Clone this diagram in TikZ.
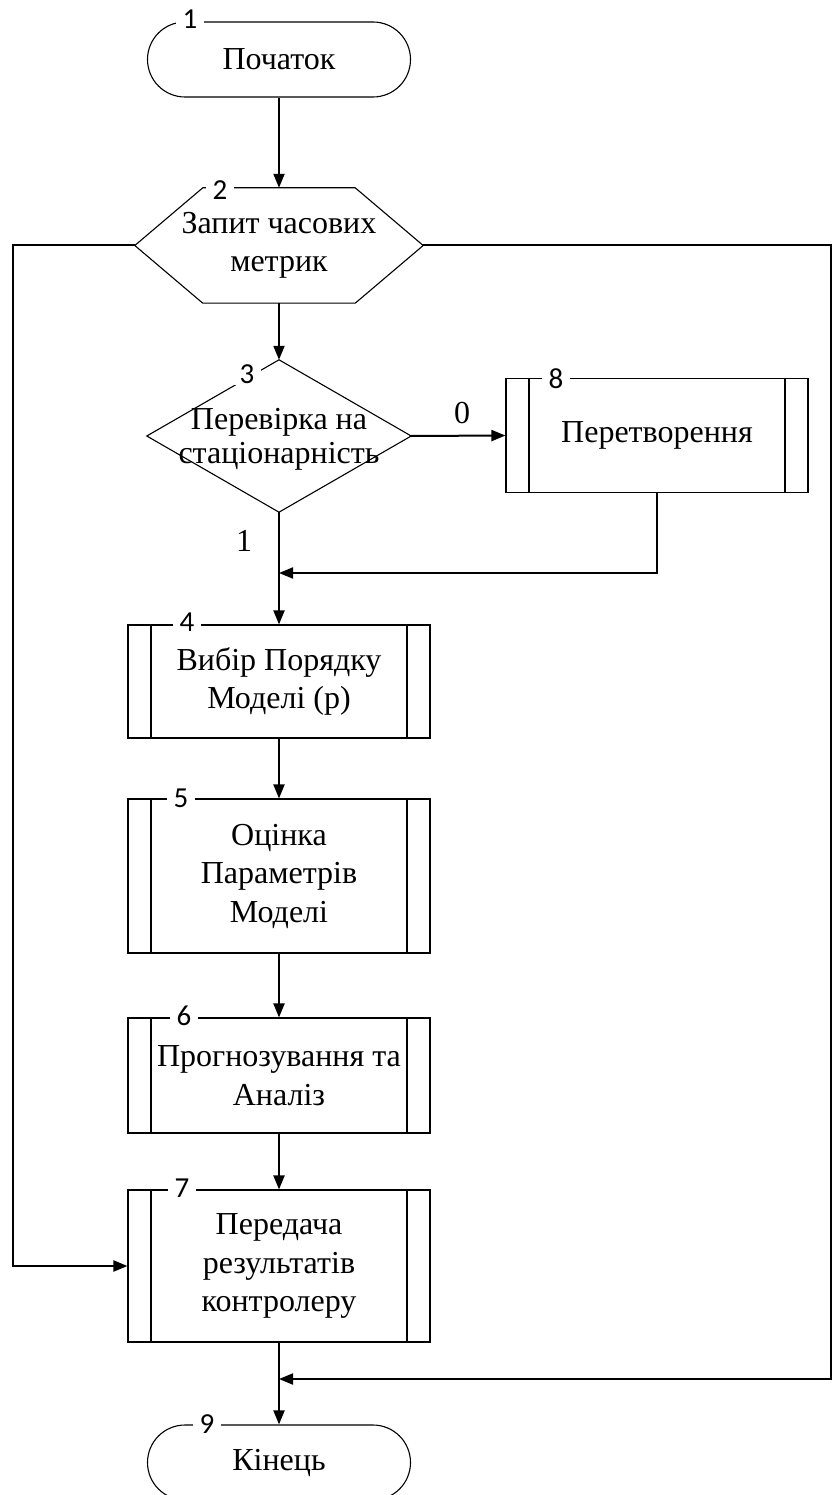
\documentclass[tikz,border=0pt]{standalone}
\usepackage{fontspec}
\setmainfont{Liberation Serif}
\newfontfamily\numfont{Carlito}
\usetikzlibrary{arrows.meta,calc}

\begin{document}
\begin{tikzpicture}[x=1pt,y=-1pt,
  outline/.style={draw=black, line width=1.1pt},
  txt/.style={font=\fontsize{32}{38.5}\selectfont, align=center, inner sep=0pt},
  terminal/.style={outline, txt, rectangle, rounded corners=37.5pt,
    minimum width=263pt, minimum height=75pt},
  process/.style={outline, txt, rectangle, minimum width=302pt,
    path picture={\draw[line width=1.1pt]
      ([xshift=23pt]path picture bounding box.north west) -- ([xshift=23pt]path picture bounding box.south west)
      ([xshift=-23pt]path picture bounding box.north east) -- ([xshift=-23pt]path picture bounding box.south east);}},
  frame/.style={rectangle, inner sep=0pt},
  num/.style={font=\numfont\fontsize{29}{29}\selectfont, fill=white, inner xsep=7pt, inner ysep=1.5pt},
  flow/.style={line width=2pt, -{Triangle[length=14pt,width=11pt]}},
]
\useasboundingbox (0,0) rectangle (833,1495);

% start
\node[terminal] (start) at (279,59.5) {Початок};

% data request (hexagon)
\node[frame, minimum width=288pt, minimum height=115pt] (hex) at (279,245.5) {};
\draw[outline] (hex.west) -- ($(hex.north west)+(68,0)$) -- ($(hex.north east)+(-68,0)$)
  -- (hex.east) -- ($(hex.south east)+(-68,0)$) -- ($(hex.south west)+(68,0)$) -- cycle;
\node[txt] (hextext) at (hex) {Запит часових\\метрик};

% stationarity check (decision)
\node[frame, minimum width=264pt, minimum height=152pt] (chk) at (279,436) {};
\draw[outline] (chk.north) -- (chk.east) -- (chk.south) -- (chk.west) -- cycle;
\node[txt, font=\fontsize{32}{34}\selectfont] (chktext) at ([yshift=-3pt]chk.center) {Перевірка на\\стаціонарність};

% transformation
\node[process, minimum height=114pt] (trans) at (657,435.5) {Перетворення};

% main chain of processes
\node[process, minimum height=113pt] (b4) at (279,681.5) {Вибір Порядку\\Моделі (p)};
\node[process, minimum height=154pt] (b5) at (279,876) {Оцінка\\Параметрів\\Моделі};
\node[process, minimum height=115pt] (b6) at (279,1075.5) {Прогнозування та\\Аналіз};
\node[process, minimum height=152pt] (b7) at (279,1266) {Передача\\результатів\\контролеру};

% end
\node[terminal] (end) at (279,1462.5) {Кінець};

% connectors
\coordinate (m1) at (279,573);
\coordinate (m2) at (279,1379);
\coordinate (lft) at (13,245.5);
\coordinate (rgt) at (831,245.5);

\draw[flow] (start.south) -- (hex.north);
\draw[flow] (hex.south) -- (chk.north);
\draw[flow] (chk.east) -- (trans.west);
\draw[flow] (chk.south) -- (b4.north);
\draw[flow] (trans.south) |- (m1);
\draw[flow] (b4.south) -- (b5.north);
\draw[flow] (b5.south) -- (b6.north);
\draw[flow] (b6.south) -- (b7.north);
\draw[flow] (b7.south) -- (end.north);
\draw[flow] (hex.west) -- (lft) |- (b7.west);
\draw[flow] (hex.east) -- (rgt) |- (m2);

% branch labels
\node[txt] (l0) at (462,413) {0};
\node[txt] (l1) at (244,541) {1};

% block numbers
\node[num] (n1) at (190,19) {1};
\node[num] (n2) at (220,190) {2};
\node[num] (n3) at (247,374) {3};
\node[num] (n8) at (556,379) {8};
\node[num] (n4) at (187,622) {4};
\node[num] (n5) at (181,798) {5};
\node[num] (n6) at (184,1016) {6};
\node[num] (n7) at (182,1188) {7};
\node[num] (n9) at (207,1424) {9};
\end{tikzpicture}
\end{document}
